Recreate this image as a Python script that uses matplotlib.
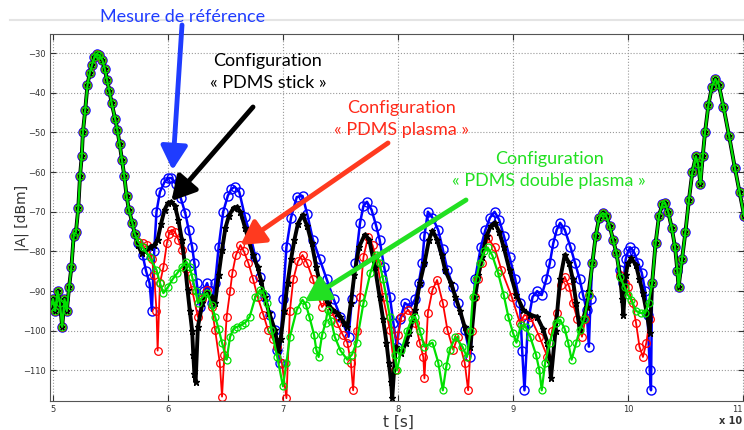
import matplotlib
matplotlib.use('Agg')
import matplotlib.pyplot as plt
from matplotlib.lines import Line2D

## Common part of all four measurements (rise + first peak)
t_rise = [4.98, 5.00, 5.02, 5.04, 5.06, 5.08, 5.10, 5.12, 5.14, 5.16, 5.18, 5.20, 5.22, 5.235,
          5.25, 5.26, 5.28, 5.30, 5.32, 5.34, 5.36, 5.38, 5.40, 5.43, 5.45, 5.47, 5.49, 5.51,
          5.54, 5.56, 5.58, 5.60, 5.62, 5.64, 5.66, 5.69, 5.71]
v_rise = [-94, -92, -95, -90, -93, -99, -92, -95, -89, -84, -76, -75, -69, -61,
          -56, -50, -44.4, -38, -35, -33, -31, -30.2, -30.5, -31.8, -34, -36.8, -39.5, -42.6,
          -46.5, -49.4, -53, -57, -61, -66, -69.5, -72.8, -75.5]

## Common peak around 9.78
t_peak = [9.69, 9.72, 9.75, 9.78, 9.81, 9.84, 9.87, 9.90]
v_peak = [-83, -76, -71.5, -70.3, -71, -73.5, -77, -80.5]

## Common tail (10.2 -> 11)
t_tail = [10.21, 10.24, 10.27, 10.30, 10.32, 10.35, 10.38, 10.41, 10.43, 10.44, 10.47, 10.50,
          10.53, 10.56, 10.59, 10.61, 10.63, 10.65, 10.67, 10.70, 10.73, 10.76, 10.79, 10.83,
          10.88, 10.93, 10.97, 11.01]
v_tail = [-88, -78, -71, -68, -67.8, -70, -74, -79, -85, -89, -82, -75,
          -67, -60, -56, -58, -63, -56, -50, -43, -38.5, -36.5, -38, -43.5,
          -51, -59, -65, -71]

## Mesure de reference (blue)
t_ref_1 = [5.74, 5.78, 5.81, 5.84, 5.86, 5.88, 5.90, 5.93, 5.97, 6.00, 6.03, 6.07, 6.11, 6.15,
           6.18, 6.21, 6.23, 6.25, 6.28, 6.31, 6.34, 6.36, 6.38, 6.41, 6.44, 6.48, 6.52, 6.55,
           6.58, 6.62, 6.67, 6.72, 6.76, 6.80, 6.84, 6.89, 6.93, 6.95, 6.97, 7.00, 7.03, 7.07,
           7.12, 7.17, 7.21, 7.26, 7.32, 7.38, 7.44, 7.50, 7.57, 7.60, 7.63, 7.67, 7.70, 7.73,
           7.77, 7.81, 7.84, 7.88, 7.93, 7.96, 7.99, 8.02, 8.06, 8.11, 8.15, 8.18, 8.21, 8.23,
           8.26, 8.30, 8.35, 8.39, 8.43, 8.48, 8.52, 8.58, 8.63, 8.67, 8.72, 8.76, 8.80, 8.84,
           8.88, 8.92, 8.97, 9.02, 9.06, 9.08, 9.10, 9.13, 9.17, 9.21, 9.25, 9.29, 9.32, 9.35,
           9.38, 9.41, 9.45, 9.50, 9.54, 9.58, 9.61, 9.64, 9.66, 9.675]
v_ref_1 = [-78, -81, -85, -88, -95, -80, -70, -65, -62.5, -61.5, -61.5, -63, -66.5, -70.3,
           -74.5, -78.9, -83, -88, -94, -90, -88, -90, -93, -88, -79, -70, -66, -64.3,
           -63.7, -65, -71.3, -76.5, -81.4, -86.5, -91.5, -96, -99.8, -104.8, -108, -92, -78.9, -71.5,
           -66.3, -66, -70.5, -77, -82, -87, -92, -96.5, -101.5, -92, -82.9, -72.8, -68.5, -67.5,
           -69.5, -73.5, -77, -84, -91.5, -98, -104, -97, -93, -94, -92, -88, -83, -76,
           -70, -71.5, -74.6, -79.5, -84.7, -89, -93, -99.8, -106.5, -87, -79, -74.6, -71.5, -70,
           -72, -76, -81.4, -87, -93, -105, -115, -98, -91.5, -90, -91, -87, -83, -78,
           -74.6, -72.8, -74.5, -78.9, -83, -87, -91, -94.7, -104, -92]
t_ref_2 = [9.93, 9.96, 9.98, 10.00, 10.02, 10.05, 10.09, 10.12, 10.15, 10.17, 10.19, 10.20]
v_ref_2 = [-84.7, -88, -82, -80, -79, -80, -83, -85.4, -90, -96, -110, -115]

## Configuration PDMS stick (black)
t_stick_1 = [5.74, 5.77, 5.80, 5.84, 5.88, 5.91, 5.94, 5.97, 6.00, 6.03, 6.06, 6.09, 6.12, 6.15,
             6.17, 6.19, 6.21, 6.22, 6.23, 6.24, 6.26, 6.30, 6.34, 6.38, 6.41, 6.44, 6.47, 6.50,
             6.53, 6.57, 6.60, 6.63, 6.67, 6.70, 6.74, 6.78, 6.81, 6.84, 6.88, 6.93, 6.96, 6.98,
             7.01, 7.04, 7.07, 7.10, 7.13, 7.17, 7.21, 7.25, 7.29, 7.34, 7.39, 7.43, 7.47, 7.50,
             7.53, 7.56, 7.59, 7.62, 7.66, 7.71, 7.75, 7.80, 7.84, 7.87, 7.90, 7.92, 7.94, 7.95,
             7.98, 8.03, 8.07, 8.10, 8.15, 8.19, 8.23, 8.27, 8.30, 8.34, 8.38, 8.41, 8.46, 8.50,
             8.54, 8.58, 8.63, 8.67, 8.70, 8.73, 8.77, 8.81, 8.84, 8.88, 8.92, 8.97, 9.03, 9.09,
             9.15, 9.21, 9.26, 9.30, 9.32, 9.33, 9.37, 9.41, 9.45, 9.49, 9.52, 9.55, 9.58, 9.61,
             9.64, 9.66]
v_stick_1 = [-78.5, -80.4, -80, -79, -78.5, -77, -73, -69.5, -67.8, -67.5, -68.5, -72, -77, -84,
             -89.7, -95, -100, -106, -111, -113, -99, -93, -90.5, -91.5, -93, -86, -79.6, -74,
             -71, -69, -68.8, -70, -74, -77, -81, -84, -87.5, -91.5, -95.5, -99.8, -105, -102,
             -95, -88, -82, -77, -73, -70.8, -73.5, -78, -84, -90.4, -93, -94.7, -95.5, -96.5,
             -98, -99, -93, -86, -79, -75.8, -77, -84, -91.5, -97, -103, -108, -113, -117,
             -104, -105.6, -103, -100.5, -94.7, -88, -83, -77, -74.8, -77, -81, -84.7, -88, -91.5,
             -95, -99, -104, -91.5, -86, -81.4, -76, -73.5, -72.8, -75, -79, -84.7, -91, -94.7,
             -96, -96.5, -99.5, -103, -108, -112, -100, -87, -80.9, -83, -87, -93, -99.8, -97,
             -94, -90]
t_stick_2 = [9.93, 9.95, 9.96, 9.98, 10.00, 10.03, 10.07, 10.10, 10.13, 10.16, 10.19]
v_stick_2 = [-86, -92, -96, -86, -83, -81.7, -83.5, -87, -90.5, -95, -100.5]

## Configuration PDMS plasma (red)
t_plasma_1 = [5.74, 5.78, 5.82, 5.86, 5.88, 5.90, 5.91, 5.93, 5.96, 5.99, 6.01, 6.03, 6.06, 6.09,
              6.12, 6.16, 6.21, 6.26, 6.30, 6.34, 6.38, 6.41, 6.45, 6.47, 6.49, 6.51, 6.54, 6.56,
              6.59, 6.63, 6.66, 6.70, 6.74, 6.78, 6.83, 6.87, 6.91, 6.95, 6.99, 7.03, 7.06, 7.09,
              7.13, 7.17, 7.21, 7.26, 7.30, 7.34, 7.38, 7.42, 7.47, 7.52, 7.56, 7.59, 7.61, 7.64,
              7.67, 7.70, 7.74, 7.78, 7.82, 7.87, 7.93, 7.97, 8.00, 8.03, 8.09, 8.15, 8.19, 8.22,
              8.23, 8.26, 8.30, 8.34, 8.39, 8.43, 8.48, 8.52, 8.58, 8.61, 8.64, 8.67, 8.70, 8.73,
              8.78, 8.84, 8.90, 8.99, 9.06, 9.10, 9.15, 9.23, 9.30, 9.34, 9.38, 9.42, 9.45, 9.49,
              9.52, 9.56, 9.60, 9.63, 9.66]
v_plasma_1 = [-77.5, -78, -78.5, -82, -86, -95, -105, -88, -84, -78, -75.5, -74.6, -75, -77,
              -79.6, -84.5, -89.7, -96.5, -92, -89.7, -94, -99.8, -108, -116.6, -106, -96.5, -90, -85.4,
              -81, -78.4, -80, -83, -87, -91.5, -96, -99.8, -102, -104, -108, -117, -95, -87,
              -82.5, -80.9, -83, -87, -91, -94, -92.5, -95, -98, -101, -103, -108, -115, -100,
              -91.5, -81.4, -76.3, -78.5, -83, -91.5, -99.8, -110, -101, -96.5, -94.7, -98, -103, -106.6,
              -112, -95.5, -89.7, -87.2, -93, -99.8, -104.8, -101.5, -108, -115, -100, -91.5, -87, -83,
              -76.6, -79, -84.7, -91.5, -98, -96, -96.5, -101.5, -106.6, -100, -95.5, -88.5, -86.4, -89,
              -93, -97, -101.5, -97, -91]
t_plasma_2 = [9.93, 9.97, 10.00, 10.04, 10.07, 10.10, 10.13, 10.16, 10.19]
v_plasma_2 = [-86, -88, -89, -93, -98, -104, -106.6, -103, -97]

## Configuration PDMS double plasma (green)
t_double_1 = [5.74, 5.78, 5.84, 5.90, 5.93, 5.96, 6.00, 6.04, 6.08, 6.12, 6.16, 6.19, 6.21, 6.24,
              6.26, 6.30, 6.34, 6.38, 6.41, 6.44, 6.47, 6.51, 6.54, 6.57, 6.60, 6.64, 6.67, 6.71,
              6.76, 6.80, 6.83, 6.86, 6.90, 6.95, 7.00, 7.03, 7.06, 7.12, 7.17, 7.20, 7.23, 7.27,
              7.29, 7.31, 7.34, 7.37, 7.39, 7.42, 7.45, 7.50, 7.56, 7.60, 7.64, 7.70, 7.76, 7.81,
              7.84, 7.87, 7.93, 7.97, 7.99, 8.03, 8.08, 8.12, 8.15, 8.19, 8.23, 8.30, 8.35, 8.39,
              8.42, 8.45, 8.50, 8.56, 8.60, 8.63, 8.65, 8.68, 8.71, 8.75, 8.78, 8.82, 8.87, 8.92,
              8.96, 9.00, 9.03, 9.07, 9.11, 9.15, 9.20, 9.23, 9.25, 9.28, 9.32, 9.37, 9.41, 9.45,
              9.48, 9.51, 9.55, 9.58, 9.62, 9.66]
v_double_1 = [-77.5, -79, -81.4, -84.7, -88, -90.5, -89, -87, -85.5, -83.9, -82.6, -84, -86.4, -90,
              -93, -91.5, -90.5, -93.5, -96.5, -99.5, -103, -107.3, -101.5, -99.5, -99, -98.5, -98, -96.5,
              -91.5, -89.7, -90.5, -93, -99.8, -106.6, -114, -108, -101.5, -94.7, -92.2, -93.5, -96.5, -101,
              -104.8, -106.6, -101, -98, -94.7, -97.5, -101.5, -105, -107.3, -106, -103, -93, -85.4, -81,
              -83, -87, -96.5, -106, -110, -104.8, -100, -97, -96.5, -100, -104, -103, -108, -115,
              -109, -104.8, -101.5, -104, -106.6, -100, -91.5, -87, -83, -80, -79, -81, -85.4, -91,
              -96.5, -100.5, -103, -98.5, -99, -101.5, -106, -110, -115, -108, -103, -98, -97.2, -99.5,
              -103, -107.3, -103, -99.8, -97, -91]
t_double_2 = [9.93, 9.97, 10.00, 10.03, 10.07, 10.11, 10.15, 10.18]
v_double_2 = [-86.4, -89, -91, -92.2, -95, -95.5, -95.5, -93]

x_ticks = [5, 6, 7, 8, 9, 10, 11]
x_labels = ['5', '6', '7', '8', '9', '10', '11']
y_ticks = [-30, -40, -50, -60, -70, -80, -90, -100, -110]

W, H = 744.0, 430.0
fig = plt.figure(figsize=(W / 100, H / 100), dpi=100)
ax = fig.add_axes([50 / W, (H - 401) / H, (W - 50) / W, (401 - 34) / H])

# full curves = common parts + own parts
def full(t1, v1, t2, v2):
    return t_rise + t1 + t_peak + t2 + t_tail, v_rise + v1 + v_peak + v2 + v_tail

t, v = full(t_ref_1, v_ref_1, t_ref_2, v_ref_2)
ax.plot(t, v, color='#0000ff', lw=1.8, marker='o', mfc='none', ms=6.5, mew=1.0)
t, v = full(t_plasma_1, v_plasma_1, t_plasma_2, v_plasma_2)
ax.plot(t, v, color='#ff0000', lw=1.3, marker='o', mfc='none', ms=5.5, mew=0.9)
t, v = full(t_stick_1, v_stick_1, t_stick_2, v_stick_2)
ax.plot(t, v, color='black', lw=2.8, marker='*', ms=5)
t, v = full(t_double_1, v_double_1, t_double_2, v_double_2)
ax.plot(t, v, color='#00e000', lw=1.6, marker='o', mfc='none', ms=5, mew=0.9)

ax.set_xlim(4.974, 11.009)
ax.set_ylim(-117.7, -25.2)
ax.set_xticks(x_ticks)
ax.set_xticklabels(x_labels)
ax.set_yticks(y_ticks)
ax.tick_params(direction='in', length=4, labelsize=6, colors='#333333', top=True, right=True, pad=3)
ax.get_xticklabels()[-1].set_ha('right')
ax.grid(True, ls=':', color='#999999', lw=0.8)
for s in ax.spines.values():
    s.set_color('#555555')

fig.text(22 / W, 1 - 218 / H, '|A| [dBm]', rotation=90, ha='center', va='center', fontsize=10, color='#333333')
fig.text(398 / W, 1 - 422 / H, 't [s]', ha='center', va='center', fontsize=11, color='#333333')
fig.text(742 / W, 1 - 421 / H, 'x 10', ha='right', va='center', fontsize=7, color='#333333', weight='bold')
fig.add_artist(Line2D([10 / W, 1], [1 - 20 / H, 1 - 20 / H], color='#e4e4e4', lw=1.5))

# annotations
fnt = 'Lato'
fig.text(183 / W, 1 - 17 / H, 'Mesure de référence', color='#1f3cff', fontsize=13, family=fnt, ha='center', va='center')
fig.text(268 / W, 1 - 72 / H, 'Configuration\n« PDMS stick »', color='black', fontsize=13, family=fnt,
         ha='center', va='center', linespacing=1.45)
fig.text(402 / W, 1 - 119 / H, 'Configuration\n« PDMS plasma »', color='#ff2a1a', fontsize=13, family=fnt,
         ha='center', va='center', linespacing=1.45)
fig.text(549 / W, 1 - 170 / H, 'Configuration\n« PDMS double plasma »', color='#22e022', fontsize=13, family=fnt,
         ha='center', va='center', linespacing=1.45)

def arrow(tail_px, tip, col):
    ax.annotate('', xy=tip, xycoords='data', xytext=(tail_px[0], H - tail_px[1]), textcoords='figure pixels',
                arrowprops=dict(arrowstyle='-|>,head_length=0.8,head_width=0.45', color=col, lw=3.5,
                                mutation_scale=18, shrinkA=0, shrinkB=0))

arrow((182, 25), (6.04, -59.5), '#1f3cff')
arrow((253, 107), (6.03, -67.3), 'black')
arrow((388, 143), (6.63, -78.4), '#ff3a1f')
arrow((466, 200), (7.19, -92.6), '#22e022')

fig.savefig('out.png', dpi=100)
